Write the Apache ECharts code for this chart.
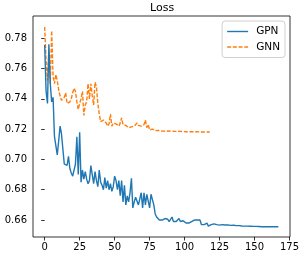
<!DOCTYPE html>
<html><head><meta charset="utf-8">
<script src="https://cdn.jsdelivr.net/npm/echarts@6/dist/echarts.min.js"></script>
<style>html,body{margin:0;padding:0;background:#fff}#c{width:305px;height:256px}</style>
</head><body><div id="c"></div>
<script>
const title = "Loss";
const seriesNames = ["GPN", "GNN"];
const xTicks = [0, 25, 50, 75, 100, 125, 150, 175];
const yTicks = [0.66, 0.68, 0.70, 0.72, 0.74, 0.76, 0.78];
const gpn = [
0.7755,0.745,0.737,0.776,0.750,0.738,0.741,0.715,0.714,0.703,
0.712,0.722,0.717,0.707,0.697,0.696,0.696,0.702,0.694,0.691,
0.689,0.693,0.697,0.715,0.690,0.718,0.685,0.693,0.687,0.692,
0.687,0.684,0.686,0.696,0.690,0.684,0.692,0.686,0.682,0.693,
0.685,0.683,0.680,0.688,0.681,0.686,0.680,0.684,0.679,0.682,
0.689,0.686,0.680,0.686,0.676,0.686,0.672,0.683,0.670,0.676,
0.672,0.678,0.6875,0.668,0.672,0.675,0.676,0.670,0.674,0.678,
0.668,0.678,0.670,0.677,0.676,0.668,0.677,0.677,0.670,0.664,
0.662,0.661,0.660,0.661,0.660,0.661,0.661,0.660,0.6605,0.659,
0.660,0.662,0.659,0.660,0.659,0.660,0.661,0.659,0.660,0.6595,
0.659,0.658,0.6575,0.658,0.6585,0.659,0.659,0.660,0.6605,0.660,
0.6595,0.660,0.657,0.6565,0.657,0.6575,0.658,0.656,0.6565,0.657,
0.6568,0.6575,0.6568,0.657,0.6572,0.6566,0.6568,0.657,0.6565,0.6567,
0.6564,0.6568,0.6563,0.6565,0.6562,0.6566,0.6561,0.6563,0.656,0.6563,
0.656,0.6561,0.6559,0.656,0.6559,0.656,0.6558,0.6559,0.6558,0.6558,
0.6557,0.6558,0.6557,0.6557,0.6557,0.6556,0.6557,0.6556,0.6557,0.6556,
0.6556,0.6556,0.6557,0.6556,0.6556,0.6556,0.6556,0.6556
];
const gnn = [
0.7875,0.765,0.752,0.770,0.750,0.785,0.755,0.750,0.756,0.752,
0.746,0.742,0.739,0.740,0.741,0.744,0.737,0.738,0.738,0.740,
0.744,0.747,0.745,0.738,0.733,0.737,0.740,0.745,0.729,0.736,
0.738,0.750,0.740,0.750,0.742,0.736,0.751,0.748,0.737,0.730,
0.725,0.7245,0.726,0.725,0.724,0.722,0.7235,0.730,0.722,0.724,
0.723,0.7235,0.723,0.722,0.724,0.7275,0.723,0.722,0.7225,0.7215,
0.721,0.7205,0.7215,0.7205,0.722,0.723,0.724,0.7225,0.7215,0.722,
0.7215,0.723,0.726,0.721,0.723,0.7195,0.7195,0.720,0.7195,0.719,
0.7195,0.7192,0.719,0.7188,0.719,0.7187,0.7189,0.7186,0.7187,0.7188,
0.7185,0.7186,0.7187,0.7185,0.7184,0.7186,0.7184,0.7185,0.7183,0.7184,
0.7185,0.7183,0.7184,0.7182,0.7183,0.7184,0.7182,0.7183,0.7182,0.7183,
0.7181,0.7182,0.7183,0.7181,0.7182,0.7181,0.7182,0.7181,0.7181
];
const toPairs = a => a.map((v, i) => [i, v]);
const font = "DejaVu Sans";
const solidIcon = 'path://M0,0H21V1.4H0Z';
const dashIcon = 'path://M0,0H4V1.4H0Z M5.7,0H9.7V1.4H5.7Z M11.4,0H15.4V1.4H11.4Z M17.1,0H21V1.4H17.1Z';
const chart = echarts.init(document.getElementById('c'), null, {renderer: 'canvas'});
chart.setOption({
  animation: false,
  backgroundColor: '#fff',
  title: {text: title, left: 150, top: 3, padding: 0,
    textStyle: {fontFamily: font, fontSize: 11, fontWeight: 'normal', color: '#000'}},
  legend: {
    orient: 'vertical', right: 20, top: 21, padding: [5, 5, 5, 5], itemGap: 4.5,
    itemWidth: 21, itemHeight: 10,
    borderColor: '#d0d0d0', borderWidth: 1, borderRadius: 3, backgroundColor: '#fff',
    textStyle: {fontFamily: font, fontSize: 10.5, color: '#000', padding: [0, 0, 0, 3]},
    data: [
      {name: seriesNames[0], icon: solidIcon, itemStyle: {color: '#1f77b4'}},
      {name: seriesNames[1], icon: dashIcon, itemStyle: {color: '#ff7f0e'}}
    ]
  },
  grid: {left: 33, right: 15, top: 16, bottom: 19, show: true, borderColor: '#000', borderWidth: 0.8, backgroundColor: 'transparent'},
  xAxis: {
    type: 'value', min: -8.35, max: 175.35,
    axisLine: {show: false}, splitLine: {show: false},
    axisTick: {show: true, length: 3.5, lineStyle: {color: '#000', width: 0.8}, customValues: xTicks},
    axisLabel: {fontFamily: font, fontSize: 10, color: '#000', margin: 5, customValues: xTicks}
  },
  yAxis: {
    type: 'value', min: 0.6488, max: 0.7947,
    axisLine: {show: false}, splitLine: {show: false},
    axisTick: {show: true, length: 3.5, lineStyle: {color: '#000', width: 0.8}, customValues: yTicks},
    axisLabel: {fontFamily: font, fontSize: 10, color: '#000', margin: 6, customValues: yTicks,
      formatter: v => v.toFixed(2)}
  },
  series: [
    {name: seriesNames[0], type: 'line', data: toPairs(gpn), symbol: 'none', showSymbol: false,
      lineStyle: {color: '#1f77b4', width: 1.4}, itemStyle: {color: '#1f77b4'}, z: 3},
    {name: seriesNames[1], type: 'line', data: toPairs(gnn), symbol: 'none', showSymbol: false,
      lineStyle: {color: '#ff7f0e', width: 1.4, type: [4, 1.7]}, itemStyle: {color: '#ff7f0e'}, z: 2}
  ]
});
</script></body></html>
